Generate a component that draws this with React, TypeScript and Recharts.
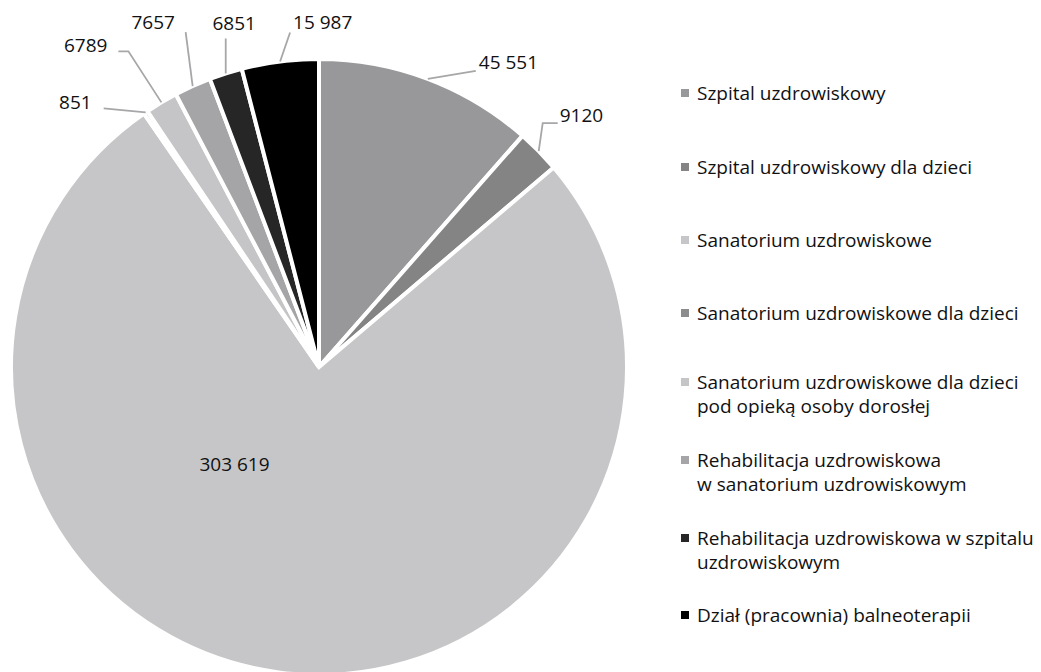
import React from 'react';
import { PieChart, Pie, Cell } from 'recharts';

const CATEGORIES = [
  'Szpital uzdrowiskowy',
  'Szpital uzdrowiskowy dla dzieci',
  'Sanatorium uzdrowiskowe',
  'Sanatorium uzdrowiskowe dla dzieci',
  'Sanatorium uzdrowiskowe dla dzieci pod opieką osoby dorosłej',
  'Rehabilitacja uzdrowiskowa w sanatorium uzdrowiskowym',
  'Rehabilitacja uzdrowiskowa w szpitalu uzdrowiskowym',
  'Dział (pracownia) balneoterapii',
];

const VALUES = [45551, 9120, 303619, 851, 6789, 7657, 6851, 15987];

// legend text split the same way as in the original
const LEGEND_LINES = [
  ['Szpital uzdrowiskowy'],
  ['Szpital uzdrowiskowy dla dzieci'],
  ['Sanatorium uzdrowiskowe'],
  ['Sanatorium uzdrowiskowe dla dzieci'],
  ['Sanatorium uzdrowiskowe dla dzieci', 'pod opieką osoby dorosłej'],
  ['Rehabilitacja uzdrowiskowa', 'w sanatorium uzdrowiskowym'],
  ['Rehabilitacja uzdrowiskowa w szpitalu', 'uzdrowiskowym'],
  ['Dział (pracownia) balneoterapii'],
];

const COLORS = ['#98989a', '#848485', '#c6c6c8', '#8c8c8e', '#c5c5c7', '#a5a5a7', '#262626', '#000000'];

// label placement, offsets from the slice's outer edge point (inside label: from centre)
const LABEL_LAYOUT: any[] = [
  { line: [[0, 0], [48, -8]], dx: 51, dy: -17, anchor: 'start' },
  { line: [[0, 0], [4, -28], [19, -28]], dx: 21, dy: -36, anchor: 'start' },
  { inside: true, dx: -84.5, dy: 97, anchor: 'middle' },
  { line: [[0, 0], [-42, -4]], dx: -54, dy: -10, anchor: 'end' },
  { line: [[0, 0], [-33, -51], [-43, -51]], dx: -54, dy: -57, anchor: 'end' },
  { line: [[0, 0], [-7, -54]], dx: -39.5, dy: -64, anchor: 'middle' },
  { line: [[0, 0], [0, -35]], dx: 8.5, dy: -50, anchor: 'middle' },
  { line: [[0, 0], [10, -29]], dx: 13, dy: -39, anchor: 'start' },
];

const LEGEND_TOP = [93, 167, 240, 313, 382, 460, 538, 615];

const FONT = '"Open Sans", "Noto Sans", sans-serif';
const TEXT_COLOR = '#111111';

const fmt = (v: number) => {
  const s = String(v);
  if (s.length < 5) return s;
  return s.replace(/\B(?=(\d{3})+(?!\d))/g, ' ');
};

const data = CATEGORIES.map((name, i) => ({ name, value: VALUES[i] }));

const RADIAN = Math.PI / 180;

const renderLabel = (props: any) => {
  const { cx, cy, midAngle, outerRadius, index, value } = props;
  const cfg = LABEL_LAYOUT[index];
  if (cfg.inside) {
    return (
      <text x={cx + cfg.dx} y={cy + cfg.dy} textAnchor="middle" dominantBaseline="central"
        fill={TEXT_COLOR} fontSize={19} fontFamily={FONT}>
        {fmt(value)}
      </text>
    );
  }
  const ex = cx + outerRadius * Math.cos(-midAngle * RADIAN);
  const ey = cy + outerRadius * Math.sin(-midAngle * RADIAN);
  const pts = cfg.line.map((p: number[]) => `${ex + p[0]},${ey + p[1]}`).join(' ');
  return (
    <g>
      <polyline points={pts} fill="none" stroke="#a7a7a9" strokeWidth={1.8} />
      <text x={ex + cfg.dx} y={ey + cfg.dy} textAnchor={cfg.anchor} dominantBaseline="central"
        fill={TEXT_COLOR} fontSize={19} fontFamily={FONT}>
        {fmt(value)}
      </text>
    </g>
  );
};

export default function App() {
  return (
    <div style={{ position: 'absolute', left: 0, top: 0, width: 1041, height: 672, background: '#fff', overflow: 'hidden' }}>
      <PieChart width={1041} height={672} margin={{ top: 0, right: 0, bottom: 0, left: 0 }}>
        <Pie
          data={data}
          dataKey="value"
          nameKey="name"
          cx={319}
          cy={367}
          outerRadius={308}
          startAngle={90}
          endAngle={-270}
          stroke="#ffffff"
          strokeWidth={4}
          labelLine={false}
          label={renderLabel}
          isAnimationActive={false}
        >
          {data.map((d, i) => (
            <Cell key={d.name} fill={COLORS[i]} />
          ))}
        </Pie>
      </PieChart>
      {LEGEND_LINES.map((lines, i) => (
        <div key={i} style={{ position: 'absolute', left: 681, top: LEGEND_TOP[i] - 12, fontFamily: FONT, fontSize: 19, lineHeight: '24px', color: TEXT_COLOR }}>
          <span style={{ position: 'absolute', left: 0, top: 8, width: 8, height: 8, background: COLORS[i] }} />
          <div style={{ marginLeft: 16, whiteSpace: 'nowrap' }}>
            {lines.map((l, j) => <div key={j}>{l}</div>)}
          </div>
        </div>
      ))}
    </div>
  );
}
